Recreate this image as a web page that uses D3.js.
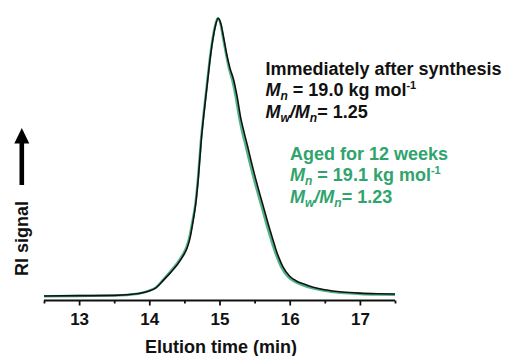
<!DOCTYPE html>
<html>
<head>
<meta charset="utf-8">
<script src="https://cdn.jsdelivr.net/npm/d3@7"></script>
<style>
html,body{margin:0;padding:0;background:#fff;}
svg{display:block;font-family:"Liberation Sans",Arial,sans-serif;}
</style>
</head>
<body>
<svg id="chart" width="508" height="356"></svg>
<script>
// ---- data ----
const majorTicks = [13, 14, 15, 16, 17];
const minorTicks = [12.5, 13.5, 14.5, 15.5, 16.5, 17.5];
const xLabel = "Elution time (min)";
const yLabel = "RI signal";

// Immediately after synthesis (black)
const timeFresh   = [12.5, 13.0, 13.5, 13.85, 14.0, 14.1, 14.2, 14.3, 14.4, 14.48, 14.54, 14.58, 14.62, 14.66, 14.7, 14.74, 14.78, 14.82, 14.86, 14.9, 14.94, 14.98, 15.02, 15.06, 15.1, 15.15, 15.2, 15.25, 15.3, 15.35, 15.4, 15.45, 15.5, 15.55, 15.6, 15.65, 15.7, 15.75, 15.8, 15.85, 15.9, 16.0, 16.1, 16.2, 16.35, 16.5, 16.75, 17.0, 17.25, 17.5];
const signalFresh = [0.002, 0.003, 0.004, 0.011, 0.02, 0.032, 0.058, 0.085, 0.115, 0.145, 0.175, 0.21, 0.265, 0.33, 0.43, 0.56, 0.66, 0.75, 0.84, 0.915, 0.97, 1.0, 0.98, 0.93, 0.875, 0.82, 0.78, 0.72, 0.645, 0.59, 0.54, 0.487, 0.437, 0.39, 0.345, 0.3, 0.255, 0.213, 0.172, 0.137, 0.108, 0.073, 0.055, 0.045, 0.032, 0.024, 0.016, 0.012, 0.01, 0.009];

// Aged for 12 weeks (green)
const timeAged   = [12.5, 13.0, 13.5, 13.84, 13.99, 14.09, 14.19, 14.29, 14.39, 14.47, 14.53, 14.57, 14.61, 14.655, 14.695, 14.735, 14.775, 14.815, 14.855, 14.895, 14.935, 14.975, 15.015, 15.05, 15.09, 15.135, 15.18, 15.23, 15.28, 15.325, 15.375, 15.425, 15.475, 15.525, 15.575, 15.625, 15.675, 15.725, 15.775, 15.825, 15.875, 15.975, 16.08, 16.18, 16.33, 16.48, 16.74, 17.0, 17.25, 17.5];
const signalAged = [0.001, 0.002, 0.003, 0.01, 0.02, 0.032, 0.058, 0.087, 0.118, 0.148, 0.178, 0.212, 0.265, 0.33, 0.43, 0.56, 0.66, 0.75, 0.84, 0.915, 0.97, 1.0, 0.98, 0.93, 0.875, 0.82, 0.78, 0.72, 0.645, 0.59, 0.54, 0.487, 0.437, 0.39, 0.345, 0.3, 0.255, 0.213, 0.172, 0.137, 0.108, 0.071, 0.052, 0.041, 0.029, 0.021, 0.013, 0.009, 0.007, 0.006];

const freshTitle = "Immediately after synthesis";
const freshMn = "19.0";
const freshPdi = "1.25";
const agedTitle = "Aged for 12 weeks";
const agedMn = "19.1";
const agedPdi = "1.23";

// ---- drawing ----
const svg = d3.select("#chart");
const x = d3.scaleLinear().domain([12.5, 17.5]).range([44, 395]);
const y = d3.scaleLinear().domain([0, 1]).range([296.5, 18.3]);

const green = "#2fa46c";
const greenLine = "#4fb386";

const line = d3.line().x(d => x(d[0])).y(d => y(d[1])).curve(d3.curveMonotoneX);

svg.append("path")
  .datum(d3.zip(timeAged, signalAged))
  .attr("d", line).attr("fill", "none")
  .attr("stroke", greenLine).attr("stroke-width", 2.4);

svg.append("path")
  .datum(d3.zip(timeFresh, signalFresh))
  .attr("d", line).attr("fill", "none")
  .attr("stroke", "#111").attr("stroke-width", 1.6);

// x axis
const axisY = 300.5;
const gx = svg.append("g").attr("transform", `translate(0,${axisY})`);
gx.call(d3.axisBottom(x).tickValues(minorTicks).tickSize(3).tickFormat(""))
  .call(g => g.select(".domain").remove());
gx.append("g").call(d3.axisBottom(x).tickValues(majorTicks).tickSize(5).tickFormat(d3.format("d")).tickPadding(7))
  .call(g => g.select(".domain").remove())
  .call(g => g.selectAll("text").attr("font-size", 17).attr("font-weight", "bold")
        .attr("fill", "#111").attr("font-family", '"Liberation Sans",Arial,sans-serif'));
gx.selectAll(".tick line").attr("stroke", "#111").attr("stroke-width", 1.8);
gx.append("line").attr("x1", x.range()[0]).attr("x2", x.range()[1])
  .attr("stroke", "#111").attr("stroke-width", 2);

// x label
svg.append("text").attr("x", 221).attr("y", 353)
  .attr("text-anchor", "middle").attr("font-size", 18).attr("font-weight", "bold")
  .attr("fill", "#111").text(xLabel);

// y label
svg.append("text").attr("transform", "translate(28,238.5) rotate(-90)")
  .attr("text-anchor", "middle").attr("font-size", 18).attr("font-weight", "bold")
  .attr("fill", "#111").text(yLabel);

// arrow
svg.append("line").attr("x1", 21.8).attr("x2", 21.8).attr("y1", 185).attr("y2", 140)
  .attr("stroke", "#000").attr("stroke-width", 4.6);
svg.append("path").attr("d", "M21.8,128 L29.3,143.5 L14.3,143.5 Z").attr("fill", "#000");

// annotations
function block(x0, y0, color, title, mn, pdi) {
  const g = svg.append("g").attr("fill", color).attr("font-size", 18).attr("font-weight", "bold");
  g.append("text").attr("x", x0).attr("y", y0).text(title);
  const t2 = g.append("text").attr("x", x0).attr("y", y0 + 21.3);
  t2.append("tspan").attr("font-style", "italic").text("M");
  t2.append("tspan").attr("font-style", "italic").attr("font-size", 12).attr("dy", 4).text("n");
  t2.append("tspan").attr("dy", -4).text(" = " + mn + " kg mol");
  t2.append("tspan").attr("font-size", 11).attr("dy", -7).text("-1");
  const t3 = g.append("text").attr("x", x0).attr("y", y0 + 42.6);
  t3.append("tspan").attr("font-style", "italic").text("M");
  t3.append("tspan").attr("font-style", "italic").attr("font-size", 12).attr("dy", 4).text("w");
  t3.append("tspan").attr("font-style", "italic").attr("dy", -4).text("/M");
  t3.append("tspan").attr("font-style", "italic").attr("font-size", 12).attr("dy", 4).text("n");
  t3.append("tspan").attr("dy", -4).text("= " + pdi);
}
block(265.5, 75, "#111", freshTitle, freshMn, freshPdi);
block(290, 160, green, agedTitle, agedMn, agedPdi);
</script>
</body>
</html>
